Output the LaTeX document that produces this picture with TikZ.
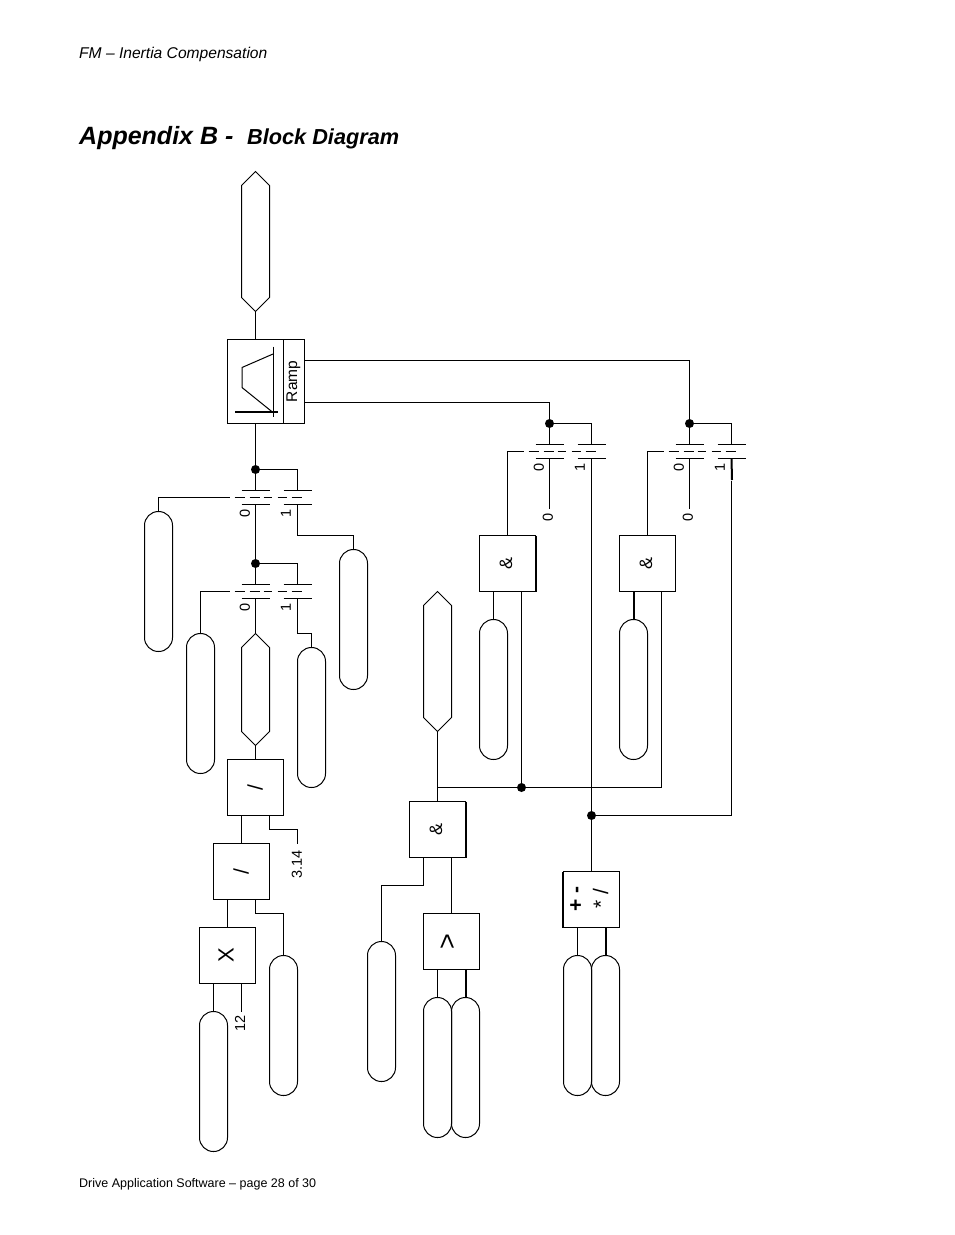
\documentclass[tikz,border=0pt]{standalone}
\usepackage{fontspec}
\setmainfont{Liberation Sans}
\tikzset{
  wire/.style={line width=1pt,line cap=butt},
  heavy/.style={line width=2pt,xshift=0.5pt,yshift=0.5pt},
  opbox/.style={draw,line width=1pt,minimum width=56pt,minimum height=56pt,inner sep=0pt,outer sep=0pt},
  pill/.style={draw,line width=1pt,rounded corners=13.9pt,minimum width=28pt,minimum height=140pt,inner sep=0pt,outer sep=0pt},
  hexa/.style={minimum width=28pt,inner sep=0pt,outer sep=0pt},
  dot/.style={circle,fill=black,inner sep=0pt,minimum size=9pt,outer sep=0pt},
  lab/.style={rotate=90,inner sep=0pt,font=\fontsize{14.5}{16}\selectfont},
  sym/.style={rotate=90,inner sep=0pt,font=\fontsize{21}{22}\selectfont},
}
% outline of a terminal with pointed ends, round a named node
\newcommand{\hexoutline}[1]{%
  \draw[wire] (#1.north) -- ([yshift=-14pt]#1.north east) -- ([yshift=14pt]#1.south east)
    -- (#1.south) -- ([yshift=14pt]#1.south west) -- ([yshift=-14pt]#1.north west) -- cycle;
}
% name, x of contact 0, x of contact 1, y of top plate
\newcommand{\swtch}[4]{%
  \coordinate (#1t0) at (#2,#4);
  \coordinate (#1b0) at (#2,#4+14);
  \coordinate (#1t1) at (#3,#4);
  \coordinate (#1b1) at (#3,#4+14);
  \coordinate (#1d) at (#2-26,#4+7);
  \draw[wire] (#2-14,#4) -- ++(28,0) (#3-14,#4) -- ++(28.5,0);
  \draw[wire] (#2-14,#4+14) -- ++(28,0) (#3-14,#4+14) -- ++(28.5,0);
  \draw[wire] (#2-21,#4+7) -- ++(10,0) (#2-6,#4+7) -- ++(10,0) (#2+8,#4+7) -- ++(8,0)
              (#2+22,#4+7) -- ++(9,0) (#2+36,#4+7) -- ++(10,0);
  \node[lab] (#1l0) at (#2-10.5,#4+23) {0};
  \node[lab] (#1l1) at (#3-11.5,#4+23) {1};
}
\begin{document}
\begin{tikzpicture}[x=1pt,y=-1pt]
\useasboundingbox (-0.5,-0.5) rectangle (953.5,1234.5);
\fill[white] (-0.5,-0.5) rectangle (953.5,1234.5);
% page texts
\node[anchor=base west,inner sep=0pt,font=\itshape\fontsize{15.6}{17}\selectfont] (hdr) at (78.5,58) {FM – Inertia Compensation};
\node[anchor=base west,inner sep=0pt,font=\bfseries\itshape\fontsize{25}{28}\selectfont] (ttl) at (78.5,144) {Appendix B -};
\node[anchor=base west,inner sep=0pt,font=\bfseries\itshape\fontsize{21.7}{24}\selectfont] (sub) at (246.5,144) {Block Diagram};
\node[anchor=base west,inner sep=0pt,font=\fontsize{12.5}{15}\selectfont] (ftr) at (78.5,1187) {Drive Application Software – page 28 of 30};
% terminals
\node[hexa,minimum height=140pt] (hA) at (255,241) {};
\node[hexa,minimum height=112pt] (hB) at (255,689) {};
\node[hexa,minimum height=140pt] (hC) at (437,661) {};
\hexoutline{hA}
\hexoutline{hB}
\hexoutline{hC}
\node[pill] (p1) at (158,581) {};
\node[pill] (p2) at (200,703) {};
\node[pill] (p3) at (353,619) {};
\node[pill] (p4) at (311,717) {};
\node[pill] (p5) at (493,689) {};
\node[pill] (p6) at (633,689) {};
\node[pill] (p7) at (283,1025) {};
\node[pill] (p8) at (213,1081) {};
\node[pill] (p9) at (381,1011) {};
\node[pill] (p10) at (437,1067) {};
\node[pill] (p11) at (465,1067) {};
\node[pill] (p12) at (577,1025) {};
\node[pill] (p13) at (605,1025) {};
% ramp block
\node[opbox,minimum height=84pt] (ramp) at (255,381) {};
\node[opbox,minimum width=21pt,minimum height=84pt] (rampn) at (293.5,381) {};
\node[lab,font=\fontsize{15.5}{17}\selectfont] (ramptxt) at (293,381) {Ramp};
\draw[wire] (272.5,346) -- (272.5,416);
\draw[wire] (272.5,353.5) -- (241.5,367) -- (241.5,387) -- (272.5,412);
\draw[heavy] (234,412) -- (277,412);
% operator boxes
\node[opbox] (d1) at (255,787) {};
\node[opbox] (d2) at (241,871) {};
\node[opbox] (mx) at (227,955) {};
\node[opbox] (a0) at (437,829) {};
\node[opbox] (gt) at (451,941) {};
\node[opbox] (ar) at (591,899) {};
\node[opbox] (a1) at (507,563) {};
\node[opbox] (a2) at (647,563) {};
\node[sym] at (254.5,787) {/};
\node[sym] at (240.5,871) {/};
\node[sym,font=\fontsize{22}{24}\selectfont] at (225.5,955) {X};
\node[sym,font=\fontsize{18}{20}\selectfont] at (435.5,829) {\&};
\node[sym,font=\fontsize{27}{28}\selectfont] at (448.5,941) {>};
\node[sym,font=\fontsize{18}{20}\selectfont] at (505.5,563) {\&};
\node[sym,font=\fontsize{18}{20}\selectfont] at (645.5,563) {\&};
\node[sym,font=\bfseries\fontsize{21}{22}\selectfont] (op1) at (576,898.5) {+ -};
\node[sym] (op2) at (600,898.5) {* /};
\draw[heavy] (a0.north east) -- (a0.south east);
\draw[heavy] (a1.north east) -- (a1.south east);
\draw[heavy] ([xshift=-1pt]ar.north west) -- ([xshift=-1pt]ar.south west);
% switches
\swtch{sA}{255}{297}{490}
\swtch{sB}{255}{297}{584}
\swtch{sC}{549}{591}{444}
\swtch{sD}{689}{731}{444}
% junctions
\node[dot] (j1) at (255,469) {};
\node[dot] (j2) at (255,563) {};
\node[dot] (j3) at (549,423) {};
\node[dot] (j4) at (689,423) {};
\node[dot] (j5) at (521,787) {};
\node[dot] (j6) at (591,815) {};
% free ends and constants
\coordinate (e1) at (549,508);
\node[lab] (k1) at (547.5,517) {0};
\coordinate (e2) at (689,508);
\node[lab] (k2) at (687.5,517) {0};
\node[lab] (k3) at (296.5,864) {3.14};
\coordinate (e3) at (297,843);
\node[lab] (k4) at (239.5,1023) {12};
\coordinate (e4) at (241,1011);
% connectors
\draw[wire] (hA.south) -- (ramp.north);
\draw[wire] (ramp.south) -- (j1) -- (sAt0);
\draw[wire] (j1) -| (sAt1);
\draw[wire] (sAb0) -- (j2) -- (sBt0);
\draw[wire] (j2) -| (sBt1);
\draw[wire] (sBb0) -- (hB.north);
\draw[wire] (sAd) -| (p1.north);
\draw[wire] (sBd) -| (p2.north);
\draw[wire] (sAb1) |- (353,535) -- (p3.north);
\draw[wire] (sBb1) |- (311,633) -- (p4.north);
\draw[wire] (hB.south) -- (d1.north);
\draw[wire] (d1.south -| d2.north) -- (d2.north);
\draw[wire] (d1.south -| e3) ++(-28,0) -- ++(0,14) -| (e3);
\draw[wire] (d2.south -| mx.north) -- (mx.north);
\draw[wire] (d2.south -| p7.north) ++(-28,0) -- ++(0,14) -| (p7.north);
\draw[wire] (mx.south -| p8.north) -- (p8.north);
\draw[wire] (mx.south -| e4) -- (e4);
\draw[wire] (rampn.east |- 0,360) -| (j4);
\draw[wire] (rampn.east |- 0,402) -| (j3);
\draw[wire] (j3) -- (sCt0);
\draw[wire] (j3) -| (sCt1);
\draw[wire] (j4) -- (sDt0);
\draw[wire] (j4) -| (sDt1);
\draw[wire] (sCb0) -- (e1);
\draw[wire] (sDb0) -- (e2);
\draw[wire] (sCd) -| (a1.north);
\draw[wire] (sDd) -| (a2.north);
\draw[wire] (a1.south -| p5.north) -- (p5.north);
\draw[heavy] (a2.south -| p6.north) -- (p6.north);
\draw[wire] (a1.south -| j5) -- (j5);
\draw[wire] (a2.south -| 661,0) |- (j5);
\draw[wire] (hC.south) -- (a0.north);
\draw[wire] (j5) -- (a0.north |- j5);
\draw[wire] (sCb1) -- (j6);
\draw[heavy] (sDb1) -- (731,480);
\draw[wire] (731,480) |- (j6);
\draw[wire] (j6) -- (ar.north);
\draw[wire] (a0.south -| gt.north) -- (gt.north);
\draw[wire] (a0.south -| 423,0) |- (381,885) -- (p9.north);
\draw[wire] (gt.south -| p10.north) -- (p10.north);
\draw[heavy] (gt.south -| p11.north) -- (p11.north);
\draw[wire] (ar.south -| p12.north) -- (p12.north);
\draw[heavy] (ar.south -| p13.north) -- (p13.north);
\end{tikzpicture}
\end{document}
